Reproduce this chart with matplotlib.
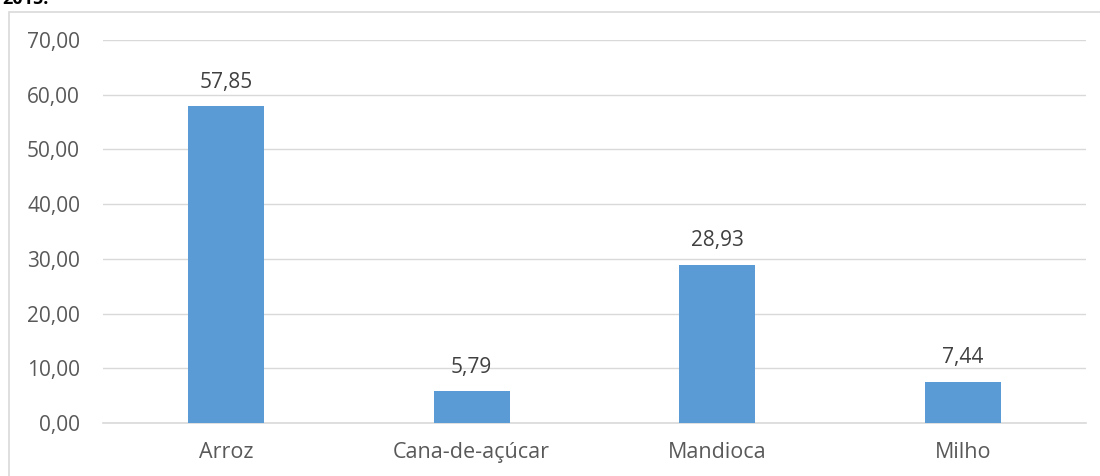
import matplotlib.pyplot as plt
from matplotlib.patches import Rectangle

categories = ['Arroz', 'Cana-de-açúcar', 'Mandioca', 'Milho']
values = [57.85, 5.79, 28.93, 7.44]
yticks = [0, 10, 20, 30, 40, 50, 60, 70]

plt.rcParams['font.family'] = ['Open Sans', 'DejaVu Sans']

fig = plt.figure(figsize=(11, 4.76), dpi=100)
ax = fig.add_axes([103 / 1100, 1 - 423 / 476, (1086 - 103) / 1100, (423 - 40) / 476])

# outer chart frame (only left/top visible in the crop)
fig.patches.append(Rectangle((8.5 / 1100, -0.1), 1.2, 1 - 11.5 / 476 + 0.1,
                             transform=fig.transFigure, fill=False,
                             edgecolor='#d9d9d9', linewidth=1.2))
# title cut off by the top edge in the original
fig.text(2 / 1100, 1 - 4 / 476, '2015.', fontsize=13, fontweight='bold',
         color='black', va='baseline', ha='left')

x = range(len(categories))
bars = ax.bar(x, values, width=0.31, color='#5b9bd5', zorder=3)
for b, v in zip(bars, values):
    ax.annotate(f'{v:.2f}'.replace('.', ','), (b.get_x() + b.get_width() / 2, v),
                xytext=(0, 17.5), textcoords='offset points', ha='center', va='center',
                fontsize=15, color='#404040')

ax.set_xlim(-0.5, len(categories) - 0.5)
ax.set_ylim(0, 70)
ax.set_yticks(yticks)
ax.set_yticklabels([f'{t:.2f}'.replace('.', ',') for t in yticks])
ax.set_xticks(list(x))
ax.set_xticklabels(categories)
ax.tick_params(axis='both', length=0, labelsize=15, labelcolor='#595959')
ax.tick_params(axis='y', pad=16.5)
ax.tick_params(axis='x', pad=13.5, labelsize=15.5)
ax.grid(axis='y', color='#d9d9d9', linewidth=1, zorder=0)
for s in ['top', 'right', 'left']:
    ax.spines[s].set_visible(False)
ax.spines['bottom'].set_color('#d9d9d9')
ax.spines['bottom'].set_linewidth(1.2)

fig.savefig('out.png', dpi=100)
